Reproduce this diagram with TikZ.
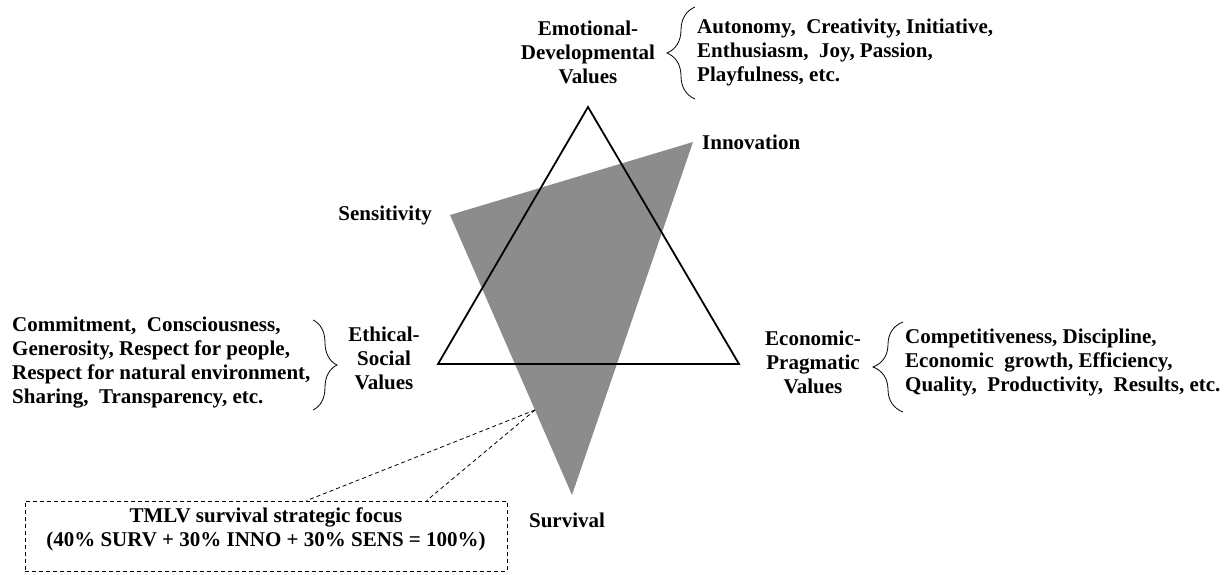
\documentclass[tikz,border=0pt]{standalone}
\usepackage{fontspec}
\setmainfont{Liberation Serif}
\usetikzlibrary{decorations.pathreplacing,positioning}
\definecolor{focusgray}{RGB}{140,140,140}

\begin{document}
\begin{tikzpicture}[x=1pt,y=-1pt,
  lbl/.style={font=\bfseries\fontsize{21}{24}\selectfont,inner sep=0pt,align=center},
  lst/.style={lbl,align=left,anchor=west},
  brc/.style={decorate,decoration={brace,amplitude=#1,aspect=0.5},line width=0.8pt},
  link/.style={line width=0.8pt,dash pattern=on 4pt off 3pt}]
\useasboundingbox (0,0) rectangle (1231,575);
% shaded focus triangle
\coordinate (sens) at (450,215);
\coordinate (inno) at (693,142);
\coordinate (surv) at (572,495);
\fill[focusgray] (sens) -- (inno) -- (surv) -- cycle;
% value triangle
\coordinate (top) at (588,107);
\coordinate (lft) at (438,364);
\coordinate (rgt) at (739,364);
\draw[line width=1.8pt] (top) -- (lft) -- (rgt) -- cycle;

\node[lbl] (emo) at (588,52) {Emotional-\\Developmental\\Values};
\node[lst] (emolist) at (697,52) {Autonomy,\ \ Creativity,\ Initiative,\\Enthusiasm,\ \ Joy, Passion,\\Playfulness, etc.};
\draw[brc=28pt] (695,99) -- (695,7);

\node[lbl] (eth) at (384,358) {Ethical-\\Social\\Values};
\node[lst] (ethlist) at (12,363) {Commitment,\ \ Consciousness,\\Generosity, Respect for people,\\Respect for natural environment,\\Sharing,\ \ Transparency,\ etc.};
\draw[brc=24pt] (313,320) -- (313,410);

\node[lbl] (eco) at (813,362) {Economic-\\Pragmatic\\Values};
\node[lst] (ecolist) at (905,362) {Competitiveness, Discipline,\\Economic\ \ growth, Efficiency,\\Quality,\ \ Productivity,\ \ Results, etc.};
\draw[brc=30pt] (903,412) -- (903,322);

\node[lbl,anchor=east] (sensl) at (432,215) {Sensitivity};
\node[lbl,anchor=west] (innol) at (702,142) {Innovation};
\node[lbl] (survl) at (567,520) {Survival};

\node[draw,link,minimum width=482pt,minimum height=70pt] (focusbox) at (266,536) {};
\node[lbl] (focus) at (266,529)
  {TMLV survival strategic focus\\(40\% SURV + 30\% INNO + 30\% SENS = 100\%)};
\coordinate (edge) at (535,410);
\draw[link] (edge) -- ([xshift=282pt]focusbox.north west);
\draw[link] (edge) -- ([xshift=402pt]focusbox.north west);
\end{tikzpicture}
\end{document}
